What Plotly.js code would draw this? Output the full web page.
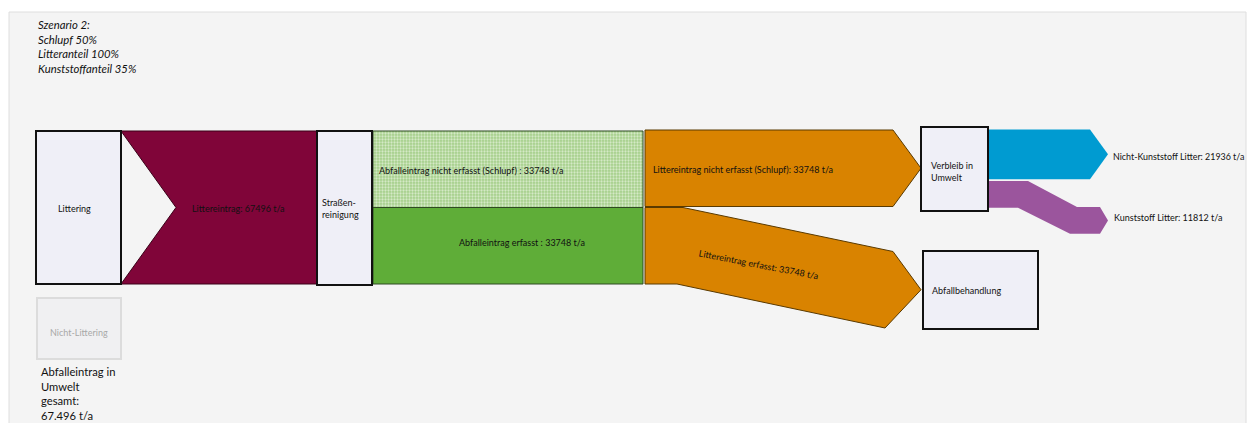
<!DOCTYPE html>
<html>
<head>
<meta charset="utf-8">
<script src="https://cdn.plot.ly/plotly-3.0.1.min.js"></script>
<style>html,body{margin:0;padding:0;background:#fff;}#chart{width:1249px;height:423px;}</style>
</head>
<body>
<div id="chart"></div>
<script>
// ---- data (t/a) ----
const scenarioLines = ["Szenario 2:", "Schlupf 50%", "Litteranteil 100%", "Kunststoffanteil 35%"];
const nodeNames = ["Littering", "Straßen-<br>reinigung", "Verbleib in<br>Umwelt", "Abfallbehandlung", "Nicht-Littering"];
const flowNames = ["Littereintrag", "Abfalleintrag nicht erfasst (Schlupf)", "Abfalleintrag erfasst",
                   "Littereintrag nicht erfasst (Schlupf)", "Littereintrag erfasst",
                   "Nicht-Kunststoff Litter", "Kunststoff Litter"];
const flowValues = [67496, 33748, 33748, 33748, 33748, 21936, 11812];
const totalLabel = "Abfalleintrag in<br>Umwelt<br>gesamt:<br>67.496 t/a";

// ---- layout geometry (pixel-like axis units) ----
const k = 153 / flowValues[0];           // px per t/a
const th = flowValues.map(v => v * k);   // band thickness
const col = {lit0: 36, lit1: 121, str0: 317, str1: 372, grn0: 373, grn1: 643,
             org0: 645, org1: 893, tip1: 921, umw0: 921, umw1: 988, abf0: 923, abf1: 1038,
             out1: 1090, tip2: 1108};
const top0 = 131;

const C = {maroon: "#800539", lgreen: "#a5cf8a", green: "#5fad38", orange: "#d98300",
           blue: "#009bd1", purple: "#9b559d", box: "#efeff7"};

function poly(xs, ys, color, line, extra) {
  return Object.assign({type: "scatter", mode: "lines", x: xs.concat([xs[0]]), y: ys.concat([ys[0]]),
    fill: "toself", fillcolor: color, line: line || {width: 0, color: color}, hoverinfo: "skip", showlegend: false}, extra || {});
}

const traces = [];
// Littereintrag (maroon, notched)
const mB = top0 + th[0];
traces.push(poly([col.lit1, col.str0, col.str0, col.lit1, col.lit1 + 55],
                 [top0, top0, mB, mB, (top0 + mB) / 2], C.maroon, {width: 1, color: "#3a0018"}));
// green bands
const gMid = top0 + th[1];
traces.push(poly([col.grn0, col.grn1, col.grn1, col.grn0], [top0, top0, gMid, gMid], C.lgreen,
                 {width: 1, color: "#2f4a22"},
                 {fillpattern: {shape: ".", bgcolor: C.lgreen, fgcolor: "#d4e9c6", size: 3, solidity: 0.45}}));
traces.push(poly([col.grn0, col.grn1, col.grn1, col.grn0], [gMid, gMid, gMid + th[2], gMid + th[2]], C.green,
                 {width: 1, color: "#2f4a22"}));
// orange upper (arrow)
const oT = top0 - 1, oB = oT + th[3];
traces.push(poly([col.org0, col.org1, col.tip1, col.org1, col.org0], [oT, oT, (oT + oB) / 2, oB, oB], C.orange,
                 {width: 1, color: "#5a3a00"}));
// orange lower (slanted arrow)
const lT = gMid, drop = 44;
traces.push(poly([col.org0, 683, col.org1, col.tip1, col.org1 - 8, 677, col.org0],
                 [lT, lT, lT + drop, lT + drop + th[4] / 2, lT + drop + th[4], lT + th[4], lT + th[4]], C.orange,
                 {width: 1, color: "#5a3a00"}));
// blue (Nicht-Kunststoff)
const bT = 129.5, bB = bT + th[5];
traces.push(poly([col.umw1, col.out1, col.tip2, col.out1, col.umw1], [bT, bT, (bT + bB) / 2, bB, bB], C.blue));
// purple (Kunststoff)
const pT = bB + 1.8, pB = pT + th[6], pd = 26;
traces.push(poly([col.umw1, 1028, 1077, 1100, col.tip2, 1100, 1070, 1018, col.umw1],
                 [pT, pT, pT + pd, pT + pd, pT + pd + th[6] / 2, pB + pd, pB + pd, pB, pB], C.purple));

const shapes = [
  {type: "rect", layer: "below", x0: 9, x1: 1246, y0: 12, y1: 440, fillcolor: "#f4f4f4", line: {color: "#dedede", width: 1}},
  {type: "rect", x0: col.lit0, x1: col.lit1, y0: top0, y1: mB, fillcolor: C.box, line: {color: "#111", width: 2}},
  {type: "rect", x0: col.str0, x1: col.str1, y0: top0, y1: mB + 1, fillcolor: C.box, line: {color: "#111", width: 2}},
  {type: "rect", x0: col.umw0, x1: col.umw1, y0: 127, y1: 211, fillcolor: C.box, line: {color: "#111", width: 2}},
  {type: "rect", x0: col.abf0, x1: col.abf1, y0: 251, y1: 329, fillcolor: C.box, line: {color: "#111", width: 2}},
  {type: "rect", x0: 37, x1: 121, y0: 298, y1: 359, fillcolor: "#f0f0f2", line: {color: "#dcdcdc", width: 2}}
];

const F = "Lato, 'Open Sans', sans-serif";
function ann(text, x, y, opts) {
  return Object.assign({text: text, x: x, y: y, xref: "x", yref: "y", showarrow: false,
    font: {family: F, size: 9, color: "#111"}, xanchor: "left", yanchor: "middle", align: "left"}, opts || {});
}
const t = v => v + " t/a";
const annotations = [
  ann("<i>" + scenarioLines.join("<br>") + "</i>", 36, 46, {font: {family: F, size: 11.3, color: "#111"}}),
  ann(nodeNames[0], 74, 208, {xanchor: "center"}),
  ann(flowNames[0] + ": " + t(flowValues[0]), 238, 208, {xanchor: "center"}),
  ann(nodeNames[1], 320, 208),
  ann(flowNames[1] + " : " + t(flowValues[1]), 377, 170),
  ann(flowNames[2] + " : " + t(flowValues[2]), 522, 242, {xanchor: "center"}),
  ann(flowNames[3] + ": " + t(flowValues[3]), 651, 169),
  ann(flowNames[4] + ": " + t(flowValues[4]), 759, 264, {xanchor: "center", textangle: 11}),
  ann(nodeNames[2], 929, 171),
  ann(nodeNames[3], 930, 290),
  ann(flowNames[5] + ": " + t(flowValues[5]), 1111, 156, {font: {family: F, size: 8.9, color: "#111"}}),
  ann(flowNames[6] + ": " + t(flowValues[6]), 1112, 217),
  ann(nodeNames[4], 79, 332, {xanchor: "center", font: {family: F, size: 9, color: "#a8a8a8"}}),
  ann(totalLabel, 39, 393, {font: {family: F, size: 11.2, color: "#111"}})
];

const layout = {
  width: 1249, height: 423, margin: {l: 0, r: 0, t: 0, b: 0},
  paper_bgcolor: "#ffffff", plot_bgcolor: "rgba(0,0,0,0)",
  xaxis: {range: [0, 1249], visible: false, fixedrange: true},
  yaxis: {range: [423, 0], visible: false, fixedrange: true},
  shapes: shapes, annotations: annotations, showlegend: false, hovermode: false
};
Plotly.newPlot("chart", traces, layout, {displayModeBar: false, staticPlot: true});
</script>
</body>
</html>
